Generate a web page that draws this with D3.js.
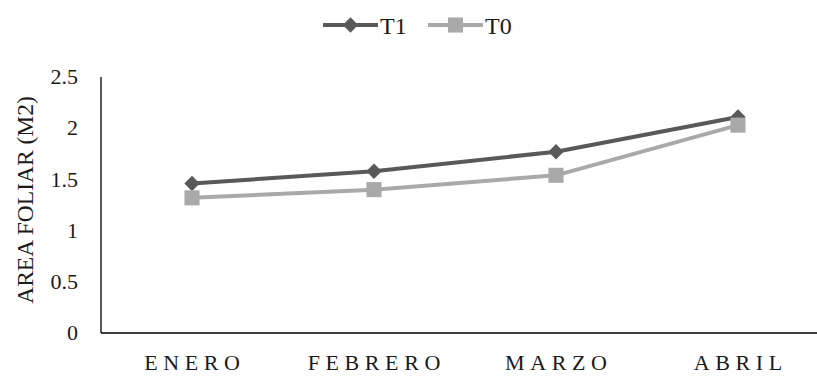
<!DOCTYPE html>
<html>
<head>
<meta charset="utf-8">
<script src="https://cdn.jsdelivr.net/npm/d3@7"></script>
<style>
  html, body { margin: 0; padding: 0; background: #fff; }
</style>
</head>
<body>
<svg id="chart" width="817" height="376"></svg>
<script>
// Monthly leaf area (m2) per treatment
const months = ["ENERO", "FEBRERO", "MARZO", "ABRIL"];
const t1Values = [1.46, 1.58, 1.77, 2.11];
const t0Values = [1.32, 1.40, 1.54, 2.03];
const yTicks = [0, 0.5, 1, 1.5, 2, 2.5];
const seriesNames = ["T1", "T0"];

const series = [
  { name: seriesNames[0], values: t1Values, color: "#595959", symbol: d3.symbolDiamond2 },
  { name: seriesNames[1], values: t0Values, color: "#a9a9a9", symbol: d3.symbolSquare2 }
];

const svg = d3.select("#chart");
const plotLeft = 101, plotRight = 829, plotTop = 77, plotBottom = 333;
const serif = "'Liberation Serif'";

const x = d3.scalePoint().domain(months).range([plotLeft, plotRight]).padding(0.5);
const y = d3.scaleLinear().domain([0, 2.5]).range([plotBottom, plotTop]);

// Axes lines
svg.append("line").attr("x1", plotLeft).attr("x2", plotLeft).attr("y1", plotTop).attr("y2", plotBottom)
  .attr("stroke", "#000").attr("stroke-width", 1.3);
svg.append("line").attr("x1", plotLeft).attr("x2", plotRight).attr("y1", plotBottom).attr("y2", plotBottom)
  .attr("stroke", "#000").attr("stroke-width", 1.3);

// Y tick labels
svg.append("g").selectAll("text").data(yTicks).join("text")
  .attr("font-family", serif)
  .attr("x", 78).attr("y", d => y(d)).attr("dy", "0.33em")
  .attr("text-anchor", "end").attr("font-size", 22).attr("fill", "#1a1a1a")
  .text(d => d);

// X category labels
svg.append("g").selectAll("text").data(months).join("text")
  .attr("font-family", serif)
  .attr("x", d => x(d) + 2.8).attr("y", 370)
  .attr("text-anchor", "middle").attr("font-size", 22).attr("letter-spacing", 5.6)
  .attr("fill", "#1a1a1a")
  .text(d => d);

// Y axis title
svg.append("text")
  .attr("font-family", serif)
  .attr("transform", `translate(33, ${(plotTop + plotBottom) / 2 - 5}) rotate(-90)`)
  .attr("text-anchor", "middle").attr("font-size", 23.5).attr("fill", "#1a1a1a")
  .text("AREA FOLIAR (M2)");

// Lines and markers
const line = d3.line().x((d, i) => x(months[i])).y(d => y(d));
series.forEach(s => {
  svg.append("path").datum(s.values)
    .attr("d", line).attr("fill", "none")
    .attr("stroke", s.color).attr("stroke-width", 4).attr("stroke-linejoin", "round");
});
series.forEach(s => {
  svg.append("g").selectAll("path").data(s.values).join("path")
    .attr("d", d3.symbol().type(s.symbol).size(s.name === "T1" ? 150 : 290))
    .attr("transform", (d, i) => `translate(${x(months[i])},${y(d)})`)
    .attr("fill", s.color);
});

// Legend
const legendItems = [
  { s: series[0], x0: 323 },
  { s: series[1], x0: 428 }
];
legendItems.forEach(({ s, x0 }) => {
  const g = svg.append("g");
  g.append("line").attr("x1", x0).attr("x2", x0 + 55).attr("y1", 25).attr("y2", 25)
    .attr("stroke", s.color).attr("stroke-width", 4);
  g.append("path")
    .attr("d", d3.symbol().type(s.symbol).size(s.name === "T1" ? 150 : 290))
    .attr("transform", `translate(${x0 + 27.5},25)`).attr("fill", s.color);
  g.append("text").attr("font-family", serif).attr("x", x0 + 57).attr("y", 34)
    .attr("font-size", 24).attr("fill", "#1a1a1a").text(s.name);
});
</script>
</body>
</html>
